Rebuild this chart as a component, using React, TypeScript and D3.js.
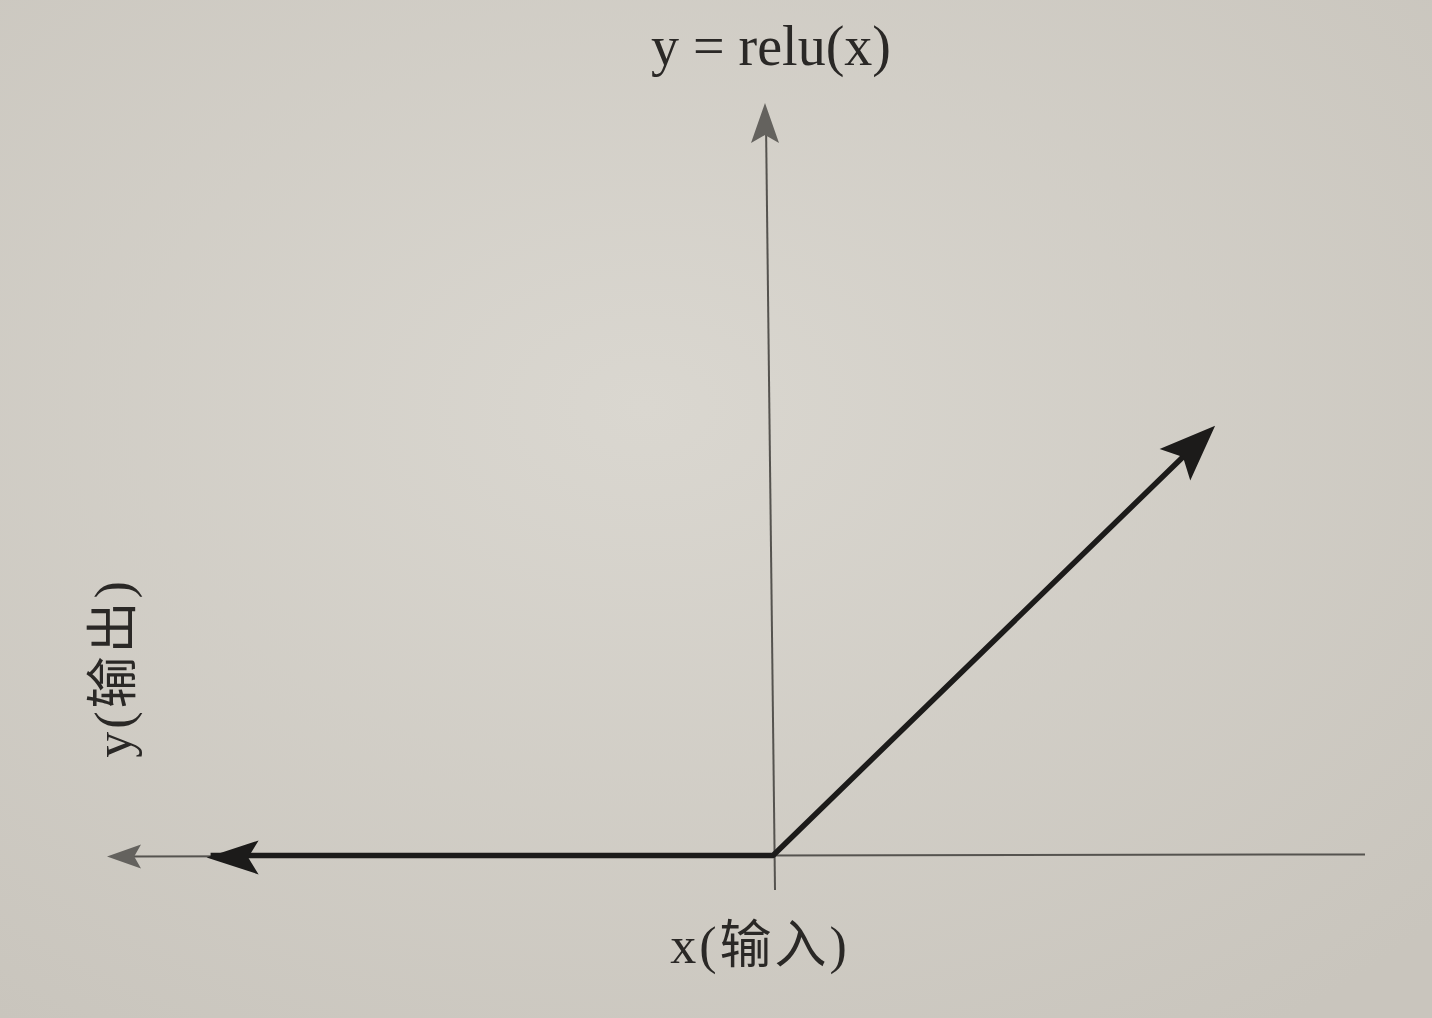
import * as d3 from 'd3';

// axis extents (in data units)
const xAxisRange = [-4.5, 4];
const yAxisRange = [-0.24, 5.23];

// relu line points
const reluX = [-3.8, 0, 2.9];
const reluY = [0, 0, 2.9];

const title = 'y = relu(x)';
const xLabel = 'x(输入)';
const yLabel = 'y(输出)';

const W = 1432;
const H = 1018;

const App = () => {
  const x = d3.scaleLinear().domain(xAxisRange).range([107, 1365]);
  const y = d3.scaleLinear().domain(yAxisRange).range([890, 103]);

  const line = d3.line<number>()
    .x((d, i) => x(reluX[i]))
    .y((d) => y(d));

  // arrowhead polygon pointing along +x, tip at 0,0
  const head = (len: number, half: number) => `M0,0L${-len},${-half}L${-len * 0.8},0L${-len},${half}Z`;

  const x0 = x(0);
  const y0 = y(0);
  const n = reluX.length;
  const rEndX = x(reluX[n - 1]);
  const rEndY = y(reluY[n - 1]);
  const lEndX = x(reluX[0]);
  const ang = Math.atan2(rEndY - y0, rEndX - x0);
  const tipX = rEndX + Math.cos(ang) * 18;
  const tipY = rEndY + Math.sin(ang) * 18;

  const font = '"Liberation Serif", "DejaVu Serif", "Noto Sans CJK SC", serif';

  return (
    <svg width={W} height={H} style={{ position: 'absolute', left: 0, top: 0 }}>
      <defs>
        <radialGradient id="paper" cx="45%" cy="40%" r="75%">
          <stop offset="0%" stopColor="#dad7d0" />
          <stop offset="100%" stopColor="#c9c5bd" />
        </radialGradient>
      </defs>
      <rect width={W} height={H} fill="url(#paper)" />

      {/* axes */}
      <line x1={x(xAxisRange[0]) + 20} y1={y0 + 1} x2={x(xAxisRange[1])} y2={y0 - 1} stroke="#55534f" strokeWidth={2} />
      <line x1={x0 + 2} y1={y(yAxisRange[0])} x2={x0 - 7} y2={y(yAxisRange[1]) + 20} stroke="#55534f" strokeWidth={2} />
      <path d={head(34, 12)} fill="#64625e" transform={`translate(${x(xAxisRange[0])},${y0 + 1}) rotate(180)`} />
      <path d={head(40, 14)} fill="#64625e" transform={`translate(${x0 - 8},${y(yAxisRange[1])}) rotate(-90)`} />

      {/* relu */}
      <path
        d={line(reluY) || ''}
        fill="none"
        stroke="#1c1b1a"
        strokeWidth={5.5}
        strokeLinejoin="round"
      />
      <path d={head(52, 17)} fill="#1c1b1a" transform={`translate(${lEndX - 4},${y0 + 2}) rotate(180)`} />
      <path
        d={head(56, 22)}
        fill="#1c1b1a"
        transform={`translate(${tipX},${tipY}) rotate(${(ang * 180) / Math.PI})`}
      />

      {/* labels */}
      <text x={771} y={65} textAnchor="middle" fontFamily={font} fontSize={56} fill="#2a2826">
        {title}
      </text>
      <text x={760} y={963} textAnchor="middle" fontFamily={font} fontSize={52} letterSpacing={3} fill="#2a2826">
        {xLabel}
      </text>
      <text
        transform="translate(131,668) rotate(-90)"
        textAnchor="middle"
        fontFamily={font}
        fontSize={52}
        letterSpacing={3}
        fill="#2a2826"
      >
        {yLabel}
      </text>
    </svg>
  );
};

export default App;
